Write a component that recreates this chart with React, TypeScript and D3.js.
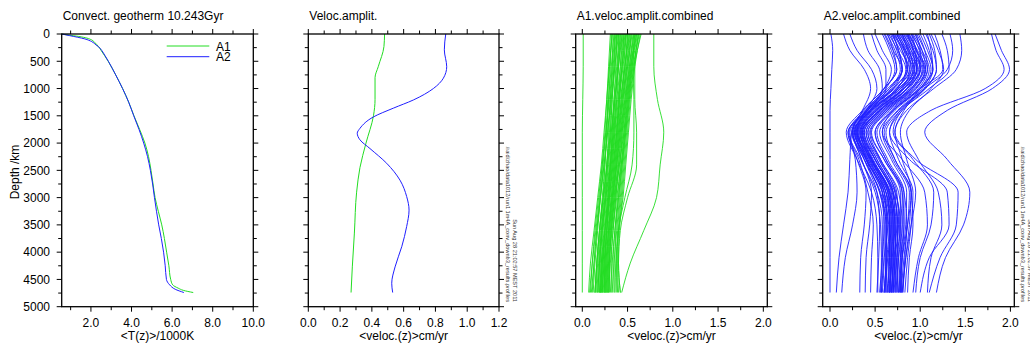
import React from "react";
import * as d3 from "d3";

// ---------------- DATA ----------------
const depthMajorTicks = [0, 500, 1000, 1500, 2000, 2500, 3000, 3500, 4000, 4500, 5000];
const depthMinorTicks = [250, 750, 1250, 1750, 2250, 2750, 3250, 3750, 4250, 4750];

const tempMajorTicks = [2, 4, 6, 8, 10];
const tempMinorTicks = [1, 3, 5, 7, 9];
const veloMajorTicks = [0, 0.2, 0.4, 0.6, 0.8, 1.0, 1.2];
const veloMinorTicks = [0.1, 0.3, 0.5, 0.7, 0.9, 1.1];
const combMajorTicks = [0, 0.5, 1.0, 1.5, 2.0];
const combMinorTicks = [0.25, 0.75, 1.25, 1.75];

const seriesNames = ["A1", "A2"];

// [depth km, T/1000K]
const geothermA1: [number, number][] = [
  [0, 0.56], [20, 0.9], [45, 1.4], [75, 1.8], [110, 2.04], [160, 2.2], [230, 2.37], [300, 2.5],
  [400, 2.68], [500, 2.85], [750, 3.22], [1000, 3.56], [1250, 3.86], [1500, 4.12], [1750, 4.4],
  [2000, 4.66], [2250, 4.84], [2500, 4.96], [2750, 5.06], [3000, 5.16], [3250, 5.32], [3500, 5.49],
  [3750, 5.62], [4000, 5.73], [4250, 5.84], [4500, 5.93], [4600, 6.03], [4660, 6.3], [4700, 6.55], [4740, 7.04],
];
const geothermA2: [number, number][] = [
  [0, 0.56], [30, 0.95], [60, 1.35], [90, 1.7], [140, 2.04], [200, 2.25], [260, 2.45], [300, 2.53],
  [400, 2.7], [500, 2.86], [750, 3.22], [1000, 3.56], [1250, 3.86], [1500, 4.11], [1750, 4.37],
  [2000, 4.6], [2250, 4.79], [2500, 4.93], [2750, 5.04], [3000, 5.13], [3250, 5.23], [3500, 5.34],
  [3750, 5.47], [4000, 5.58], [4250, 5.66], [4500, 5.72], [4600, 5.88], [4680, 6.15], [4740, 6.58],
];

// [depth km, velocity cm/yr]
const veloA1: [number, number][] = [
  [0, 0.48], [230, 0.476], [600, 0.44], [800, 0.42], [1200, 0.42], [1500, 0.41], [2000, 0.363],
  [2450, 0.325], [2900, 0.304], [3650, 0.29], [4270, 0.277], [4740, 0.269],
];
const veloA2: [number, number][] = [
  [0, 0.865], [290, 0.856], [600, 0.871], [810, 0.85], [1000, 0.787], [1210, 0.661], [1360, 0.535],
  [1520, 0.41], [1730, 0.325], [1820, 0.308], [1940, 0.325], [2100, 0.388], [2370, 0.493],
  [2680, 0.577], [2980, 0.619], [3230, 0.634], [3530, 0.619], [3900, 0.588], [4270, 0.546],
  [4570, 0.525], [4740, 0.531],
];

// combined profiles: depths of the knots, then one row of velocities per profile
const a1Depths = [0, 600, 1200, 1800, 2400, 3000, 3600, 4200, 4740];
const a1Profiles: number[][] = [
  [0.01, 0.01, 0.005, 0.0, 0.0, 0.0, 0.0, 0.0, 0.0],
  [0.79, 0.79, 0.83, 0.9, 0.86, 0.82, 0.68, 0.53, 0.435],
  [0.31, 0.29, 0.27, 0.24, 0.21, 0.17, 0.13, 0.09, 0.07],
  [0.32, 0.31, 0.29, 0.27, 0.25, 0.22, 0.19, 0.16, 0.14],
  [0.33, 0.3, 0.27, 0.25, 0.22, 0.19, 0.15, 0.11, 0.08],
  [0.34, 0.33, 0.31, 0.29, 0.27, 0.24, 0.21, 0.19, 0.18],
  [0.35, 0.32, 0.29, 0.26, 0.23, 0.2, 0.17, 0.14, 0.12],
  [0.36, 0.35, 0.33, 0.31, 0.28, 0.26, 0.23, 0.21, 0.2],
  [0.37, 0.34, 0.31, 0.28, 0.24, 0.2, 0.16, 0.13, 0.1],
  [0.38, 0.37, 0.35, 0.33, 0.31, 0.28, 0.25, 0.23, 0.22],
  [0.39, 0.36, 0.33, 0.31, 0.27, 0.23, 0.19, 0.16, 0.14],
  [0.4, 0.39, 0.36, 0.34, 0.31, 0.29, 0.27, 0.25, 0.24],
  [0.41, 0.38, 0.35, 0.32, 0.29, 0.25, 0.21, 0.18, 0.16],
  [0.42, 0.4, 0.38, 0.36, 0.33, 0.3, 0.27, 0.24, 0.22],
  [0.43, 0.4, 0.36, 0.33, 0.3, 0.26, 0.22, 0.19, 0.17],
  [0.44, 0.42, 0.4, 0.38, 0.35, 0.32, 0.29, 0.27, 0.26],
  [0.45, 0.42, 0.38, 0.34, 0.31, 0.27, 0.24, 0.21, 0.19],
  [0.46, 0.44, 0.41, 0.39, 0.36, 0.33, 0.3, 0.28, 0.27],
  [0.47, 0.44, 0.4, 0.36, 0.32, 0.28, 0.25, 0.22, 0.2],
  [0.48, 0.46, 0.43, 0.4, 0.37, 0.34, 0.31, 0.29, 0.28],
  [0.49, 0.45, 0.41, 0.37, 0.33, 0.29, 0.26, 0.23, 0.21],
  [0.5, 0.47, 0.44, 0.41, 0.38, 0.35, 0.32, 0.3, 0.3],
  [0.51, 0.47, 0.43, 0.39, 0.35, 0.31, 0.27, 0.24, 0.22],
  [0.52, 0.49, 0.46, 0.43, 0.4, 0.37, 0.34, 0.32, 0.32],
  [0.53, 0.49, 0.44, 0.4, 0.36, 0.32, 0.28, 0.25, 0.23],
  [0.54, 0.5, 0.47, 0.44, 0.42, 0.39, 0.36, 0.34, 0.34],
  [0.55, 0.5, 0.45, 0.41, 0.37, 0.33, 0.29, 0.26, 0.24],
  [0.56, 0.52, 0.49, 0.46, 0.43, 0.4, 0.37, 0.36, 0.36],
  [0.57, 0.52, 0.47, 0.42, 0.38, 0.34, 0.3, 0.27, 0.25],
  [0.58, 0.54, 0.51, 0.48, 0.45, 0.42, 0.39, 0.38, 0.38],
  [0.59, 0.54, 0.49, 0.44, 0.4, 0.35, 0.31, 0.28, 0.26],
  [0.6, 0.55, 0.52, 0.49, 0.46, 0.43, 0.4, 0.39, 0.4],
  [0.61, 0.55, 0.5, 0.46, 0.41, 0.37, 0.33, 0.29, 0.27],
  [0.62, 0.57, 0.53, 0.5, 0.47, 0.44, 0.41, 0.4, 0.42],
  [0.63, 0.56, 0.51, 0.47, 0.43, 0.38, 0.34, 0.31, 0.29],
  [0.64, 0.58, 0.54, 0.51, 0.48, 0.45, 0.4, 0.37, 0.36],
  [0.65, 0.57, 0.52, 0.48, 0.44, 0.4, 0.36, 0.33, 0.31],
  [0.62, 0.58, 0.58, 0.6, 0.6, 0.5, 0.42, 0.4, 0.42],
  [0.58, 0.56, 0.57, 0.57, 0.55, 0.47, 0.4, 0.38, 0.39],
  [0.36, 0.33, 0.3, 0.26, 0.22, 0.18, 0.14, 0.11, 0.09],
  [0.4, 0.36, 0.32, 0.28, 0.24, 0.2, 0.16, 0.13, 0.11],
  [0.44, 0.4, 0.36, 0.32, 0.28, 0.23, 0.19, 0.16, 0.14],
  [0.48, 0.44, 0.39, 0.35, 0.31, 0.26, 0.22, 0.19, 0.17],
  [0.52, 0.47, 0.42, 0.38, 0.34, 0.3, 0.25, 0.22, 0.2],
  [0.46, 0.43, 0.41, 0.38, 0.34, 0.3, 0.27, 0.25, 0.25],
  [0.5, 0.48, 0.45, 0.42, 0.38, 0.33, 0.29, 0.26, 0.25],
  [0.54, 0.51, 0.48, 0.45, 0.41, 0.36, 0.32, 0.3, 0.29],
  [0.38, 0.35, 0.32, 0.3, 0.27, 0.25, 0.22, 0.2, 0.19],
  [0.42, 0.39, 0.37, 0.35, 0.32, 0.29, 0.25, 0.22, 0.21],
  [0.57, 0.53, 0.5, 0.47, 0.44, 0.41, 0.38, 0.35, 0.33],
  [0.6, 0.53, 0.48, 0.43, 0.39, 0.36, 0.32, 0.3, 0.28],
  [0.33, 0.3, 0.28, 0.27, 0.25, 0.23, 0.2, 0.17, 0.15],
];

const a2Depths = [0, 300, 650, 1000, 1400, 1800, 2300, 2900, 3500, 4100, 4740];
const a2Profiles: number[][] = [
  [0.01, 0.03, 0.02, 0.01, 0.0, 0.0, 0.0, 0.0, 0.0, 0.0, 0.0],
  [1.83, 1.9, 1.99, 1.8, 1.3, 1.05, 1.3, 1.55, 1.48, 1.28, 1.18],
  [1.79, 1.84, 1.93, 1.72, 1.12, 0.85, 0.98, 1.2, 1.24, 1.12, 1.08],
  [1.44, 1.46, 1.4, 1.15, 0.85, 0.72, 0.95, 1.42, 1.4, 1.22, 1.1],
  [1.33, 1.36, 1.3, 1.05, 0.78, 0.66, 0.88, 1.3, 1.32, 1.1, 1.0],
  [1.24, 1.3, 1.32, 1.1, 0.8, 0.7, 0.92, 1.15, 1.12, 1.0, 0.95],
  [1.16, 1.22, 1.25, 1.0, 0.7, 0.58, 0.8, 1.05, 1.08, 0.98, 0.92],
  [0.15, 0.22, 0.38, 0.45, 0.36, 0.24, 0.22, 0.2, 0.15, 0.1, 0.07],
  [0.22, 0.3, 0.46, 0.52, 0.4, 0.22, 0.28, 0.3, 0.25, 0.17, 0.13],
  [0.37, 0.42, 0.55, 0.58, 0.42, 0.2, 0.3, 0.4, 0.38, 0.34, 0.33],
  [0.46, 0.52, 0.62, 0.62, 0.45, 0.25, 0.35, 0.46, 0.44, 0.4, 0.39],
  [0.5, 0.58, 0.68, 0.6, 0.4, 0.2, 0.32, 0.42, 0.48, 0.46, 0.45],
  [0.58, 0.66, 0.72, 0.62, 0.42, 0.28, 0.38, 0.52, 0.55, 0.54, 0.52],
  [0.61, 0.7, 0.8, 0.7, 0.45, 0.26, 0.35, 0.5, 0.56, 0.57, 0.56],
  [0.63, 0.72, 0.78, 0.66, 0.4, 0.3, 0.42, 0.58, 0.6, 0.58, 0.55],
  [0.65, 0.75, 0.84, 0.75, 0.5, 0.32, 0.4, 0.55, 0.62, 0.62, 0.6],
  [0.67, 0.74, 0.8, 0.68, 0.44, 0.29, 0.4, 0.6, 0.64, 0.6, 0.57],
  [0.68, 0.78, 0.88, 0.8, 0.52, 0.34, 0.44, 0.6, 0.63, 0.62, 0.62],
  [0.7, 0.8, 0.86, 0.74, 0.46, 0.3, 0.45, 0.64, 0.66, 0.63, 0.6],
  [0.71, 0.82, 0.92, 0.82, 0.55, 0.36, 0.46, 0.62, 0.66, 0.65, 0.64],
  [0.72, 0.8, 0.85, 0.7, 0.42, 0.27, 0.4, 0.58, 0.65, 0.66, 0.63],
  [0.73, 0.84, 0.94, 0.85, 0.56, 0.35, 0.48, 0.66, 0.7, 0.68, 0.65],
  [0.74, 0.83, 0.9, 0.78, 0.5, 0.33, 0.46, 0.65, 0.68, 0.64, 0.61],
  [0.75, 0.86, 0.96, 0.86, 0.58, 0.38, 0.5, 0.68, 0.71, 0.7, 0.68],
  [0.76, 0.84, 0.88, 0.74, 0.47, 0.3, 0.43, 0.62, 0.67, 0.67, 0.66],
  [0.77, 0.88, 0.98, 0.88, 0.6, 0.4, 0.52, 0.7, 0.72, 0.69, 0.66],
  [0.78, 0.87, 0.93, 0.8, 0.52, 0.34, 0.47, 0.66, 0.7, 0.7, 0.69],
  [0.79, 0.9, 1.0, 0.9, 0.62, 0.42, 0.55, 0.72, 0.74, 0.71, 0.68],
  [0.8, 0.88, 0.92, 0.76, 0.48, 0.31, 0.45, 0.64, 0.69, 0.68, 0.67],
  [0.81, 0.92, 1.02, 0.92, 0.64, 0.44, 0.56, 0.74, 0.76, 0.72, 0.7],
  [0.82, 0.9, 0.96, 0.82, 0.54, 0.36, 0.5, 0.69, 0.73, 0.72, 0.7],
  [0.83, 0.93, 1.0, 0.86, 0.56, 0.37, 0.5, 0.7, 0.75, 0.74, 0.72],
  [0.84, 0.95, 1.05, 0.95, 0.66, 0.46, 0.6, 0.78, 0.78, 0.74, 0.71],
  [0.85, 0.93, 0.97, 0.82, 0.52, 0.33, 0.47, 0.67, 0.72, 0.73, 0.73],
  [0.86, 0.96, 1.03, 0.9, 0.6, 0.4, 0.54, 0.73, 0.77, 0.76, 0.74],
  [0.87, 0.97, 1.06, 0.96, 0.68, 0.5, 0.62, 0.8, 0.8, 0.76, 0.73],
  [0.88, 0.96, 1.0, 0.85, 0.55, 0.35, 0.5, 0.7, 0.75, 0.75, 0.75],
  [0.9, 1.0, 1.08, 0.98, 0.7, 0.52, 0.64, 0.82, 0.82, 0.78, 0.76],
  [0.91, 0.99, 1.04, 0.9, 0.58, 0.38, 0.52, 0.72, 0.78, 0.78, 0.77],
  [0.92, 1.02, 1.1, 1.0, 0.72, 0.55, 0.68, 0.85, 0.84, 0.8, 0.78],
  [0.94, 1.02, 1.06, 0.92, 0.62, 0.42, 0.56, 0.76, 0.8, 0.79, 0.78],
  [0.96, 1.05, 1.12, 1.02, 0.75, 0.58, 0.7, 0.88, 0.86, 0.82, 0.79],
  [0.98, 1.05, 1.08, 0.94, 0.64, 0.45, 0.6, 0.8, 0.82, 0.8, 0.79],
  [1.0, 1.08, 1.14, 1.04, 0.78, 0.62, 0.72, 0.9, 0.88, 0.84, 0.8],
  [1.03, 1.1, 1.14, 1.0, 0.7, 0.5, 0.62, 0.82, 0.85, 0.83, 0.81],
  [1.06, 1.14, 1.18, 1.06, 0.8, 0.66, 0.76, 0.92, 0.9, 0.86, 0.83],
  [1.1, 1.16, 1.18, 1.05, 0.76, 0.6, 0.72, 0.9, 0.92, 0.88, 0.86],
  [0.6, 0.68, 0.74, 0.6, 0.36, 0.18, 0.3, 0.46, 0.52, 0.53, 0.53],
  [0.69, 0.76, 0.8, 0.64, 0.38, 0.21, 0.34, 0.52, 0.58, 0.58, 0.57],
  [0.74, 0.82, 0.86, 0.7, 0.4, 0.24, 0.38, 0.56, 0.62, 0.62, 0.6],
  [0.8, 0.86, 0.9, 0.72, 0.42, 0.25, 0.4, 0.6, 0.66, 0.66, 0.64],
  [0.86, 0.92, 0.94, 0.76, 0.44, 0.27, 0.42, 0.62, 0.68, 0.68, 0.66],
  [0.9, 0.95, 0.96, 0.78, 0.46, 0.29, 0.44, 0.64, 0.7, 0.7, 0.68],
  [0.95, 1.0, 1.0, 0.82, 0.5, 0.31, 0.46, 0.66, 0.72, 0.72, 0.7],
  [0.64, 0.7, 0.74, 0.6, 0.37, 0.25, 0.38, 0.55, 0.6, 0.6, 0.58],
  [0.7, 0.76, 0.8, 0.66, 0.41, 0.28, 0.41, 0.58, 0.63, 0.63, 0.62],
  [1.12, 1.2, 1.26, 1.12, 0.88, 0.78, 0.85, 0.95, 0.9, 0.84, 0.8],
  [1.08, 1.12, 1.14, 1.0, 0.82, 0.72, 0.8, 0.9, 0.86, 0.8, 0.76],
];

const sideTextLine1 = "Sun Aug 28 21:02:57 MEST 2011";
const sideTextLine2 = "/raid/zhao/data1012/run1 1m4A_conv_downb3_results.profiles";

// ---------------- LAYOUT ----------------
const W = 1030;
const H = 348;
const TOP = 34;
const BOTTOM = 306.7;
const GREEN = "#22dd22";
const BLUE = "#1f1fff";
const FONT = "'Liberation Sans', Arial, Helvetica, sans-serif";

type Panel = {
  left: number;
  right: number;
  domain: [number, number];
  major: number[];
  minor: number[];
  title: string;
  xTitle: string;
  yLabels: boolean;
  side: boolean;
};

const panels: Panel[] = [
  { left: 61.7, right: 253.3, domain: [0.56, 10], major: tempMajorTicks, minor: tempMinorTicks,
    title: "Convect. geotherm 10.243Gyr", xTitle: "<T(z)>/1000K", yLabels: true, side: false },
  { left: 308.3, right: 499, domain: [0, 1.2], major: veloMajorTicks, minor: veloMinorTicks,
    title: "Veloc.amplit.", xTitle: "<veloc.(z)>cm/yr", yLabels: false, side: true },
  { left: 575.7, right: 767.3, domain: [-0.073, 2.044], major: combMajorTicks, minor: combMinorTicks,
    title: "A1.veloc.amplit.combined", xTitle: "<veloc.(z)>cm/yr", yLabels: false, side: false },
  { left: 822.7, right: 1014.3, domain: [-0.081, 2.043], major: combMajorTicks, minor: combMinorTicks,
    title: "A2.veloc.amplit.combined", xTitle: "<veloc.(z)>cm/yr", yLabels: false, side: true },
];

const yScale = d3.scaleLinear().domain([0, 5000]).range([TOP, BOTTOM]);
const fmt1 = d3.format(".1f");

function makeLine(x: d3.ScaleLinear<number, number>) {
  return d3
    .line<[number, number]>()
    .x((d) => x(d[1]))
    .y((d) => yScale(d[0]))
    .curve(d3.curveMonotoneY);
}

function Axes({ p, x }: { p: Panel; x: d3.ScaleLinear<number, number> }) {
  const MAJ = 5;
  const MIN = 3.5;
  const els: React.ReactNode[] = [];
  p.major.forEach((t, i) => {
    const xx = x(t);
    els.push(<line key={"bM" + i} x1={xx} x2={xx} y1={BOTTOM} y2={BOTTOM + MAJ} stroke="#000" strokeWidth={1} />);
    els.push(<line key={"tM" + i} x1={xx} x2={xx} y1={TOP} y2={TOP - MAJ} stroke="#000" strokeWidth={1} />);
    els.push(
      <text key={"bl" + i} x={xx} y={326.7} textAnchor="middle" fontSize={12} fontFamily={FONT} fill="#000">
        {fmt1(t)}
      </text>
    );
  });
  p.minor.forEach((t, i) => {
    const xx = x(t);
    els.push(<line key={"bm" + i} x1={xx} x2={xx} y1={BOTTOM} y2={BOTTOM + MIN} stroke="#000" strokeWidth={1} />);
    els.push(<line key={"tm" + i} x1={xx} x2={xx} y1={TOP} y2={TOP - MIN} stroke="#000" strokeWidth={1} />);
  });
  depthMajorTicks.forEach((d, i) => {
    const yy = yScale(d);
    els.push(<line key={"lM" + i} x1={p.left} x2={p.left - MAJ} y1={yy} y2={yy} stroke="#000" strokeWidth={1} />);
    els.push(<line key={"rM" + i} x1={p.right} x2={p.right + MAJ} y1={yy} y2={yy} stroke="#000" strokeWidth={1} />);
    if (p.yLabels)
      els.push(
        <text key={"yl" + i} x={50} y={yy + 4.3} textAnchor="end" fontSize={12} fontFamily={FONT} fill="#000">
          {String(d)}
        </text>
      );
  });
  depthMinorTicks.forEach((d, i) => {
    const yy = yScale(d);
    els.push(<line key={"lm" + i} x1={p.left} x2={p.left - MIN} y1={yy} y2={yy} stroke="#000" strokeWidth={1} />);
    els.push(<line key={"rm" + i} x1={p.right} x2={p.right + MIN} y1={yy} y2={yy} stroke="#000" strokeWidth={1} />);
  });
  return <g>{els}</g>;
}

export default function App() {
  const xs = panels.map((p) => d3.scaleLinear().domain(p.domain).range([p.left, p.right]));
  const l0 = makeLine(xs[0]);
  const l1 = makeLine(xs[1]);
  const l2 = makeLine(xs[2]);
  const l3 = makeLine(xs[3]);
  const toPts = (depths: number[], vals: number[]) => vals.map((v, i) => [depths[i], v] as [number, number]);

  return (
    <svg width={W} height={H} style={{ position: "absolute", left: 0, top: 0, background: "#fff" }}>
      <rect x={0} y={0} width={W} height={H} fill="#fff" />
      {/* panel 1 */}
      <path d={l0(geothermA1) || ""} fill="none" stroke={GREEN} strokeWidth={1} />
      <path d={l0(geothermA2) || ""} fill="none" stroke={BLUE} strokeWidth={1} />
      {/* legend */}
      <line x1={166.7} x2={209.3} y1={46} y2={46} stroke={GREEN} strokeWidth={1} />
      <line x1={166.7} x2={209.3} y1={56.7} y2={56.7} stroke={BLUE} strokeWidth={1} />
      <text x={216} y={50.5} fontSize={12} fontFamily={FONT}>{seriesNames[0]}</text>
      <text x={216} y={61.2} fontSize={12} fontFamily={FONT}>{seriesNames[1]}</text>
      {/* panel 2 */}
      <path d={l1(veloA1) || ""} fill="none" stroke={GREEN} strokeWidth={1} />
      <path d={l1(veloA2) || ""} fill="none" stroke={BLUE} strokeWidth={1} />
      {/* panel 3 */}
      <g>
        {a1Profiles.map((vals, i) => (
          <path key={i} d={l2(toPts(a1Depths, vals)) || ""} fill="none" stroke={GREEN} strokeWidth={0.9} />
        ))}
      </g>
      {/* panel 4 */}
      <g>
        {a2Profiles.map((vals, i) => (
          <path key={i} d={l3(toPts(a2Depths, vals)) || ""} fill="none" stroke={BLUE} strokeWidth={0.9} />
        ))}
      </g>
      {panels.map((p, i) => (
        <g key={i}>
          <rect x={p.left} y={TOP} width={p.right - p.left} height={BOTTOM - TOP} fill="none" stroke="#000" strokeWidth={1.3} />
          <Axes p={p} x={xs[i]} />
          <text x={p.left + 1} y={20} fontSize={12} fontFamily={FONT} fill="#000">{p.title}</text>
          <text x={(p.left + p.right) / 2} y={340} textAnchor="middle" fontSize={12} fontFamily={FONT} fill="#000">
            {p.xTitle}
          </text>
          {p.side && (
            <g fontSize={5.6} fontFamily={FONT} fill="#333">
              <text transform={`translate(${p.right + 13.5},302) rotate(90)`} textAnchor="end">{sideTextLine1}</text>
              <text transform={`translate(${p.right + 7},302) rotate(90)`} textAnchor="end">{sideTextLine2}</text>
            </g>
          )}
        </g>
      ))}
      <text transform="translate(19,172) rotate(-90)" textAnchor="middle" fontSize={12} fontFamily={FONT} fill="#000">
        Depth /km
      </text>
    </svg>
  );
}
